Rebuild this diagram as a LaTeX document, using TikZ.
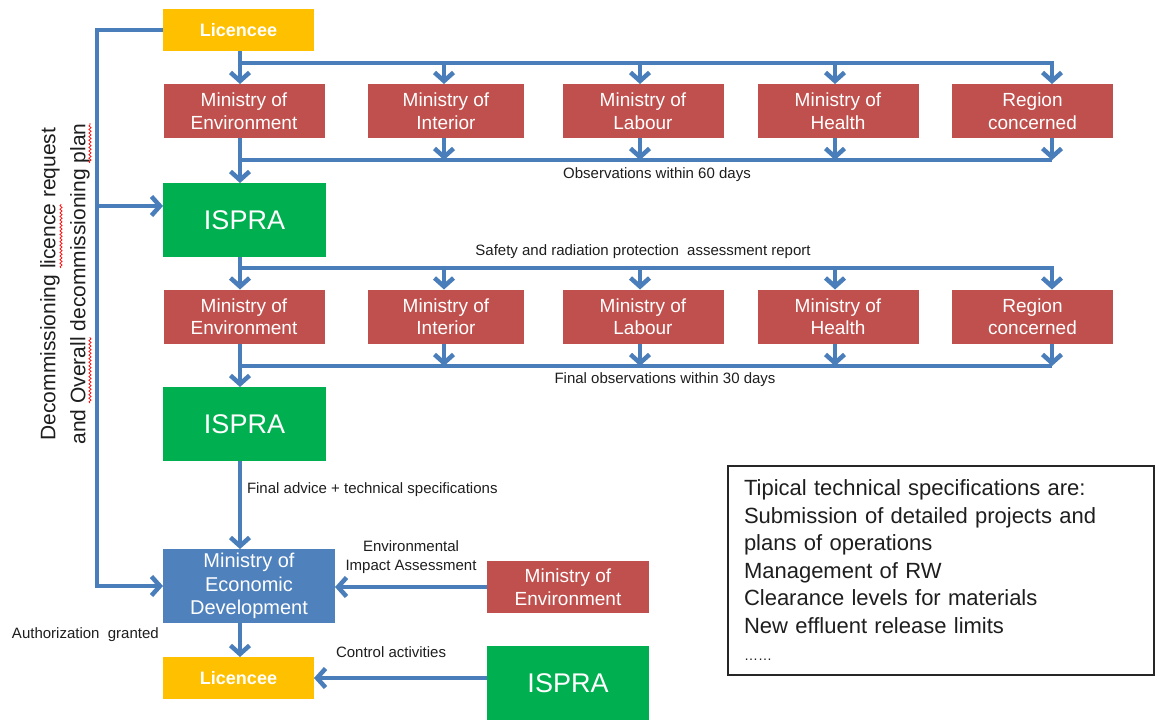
\documentclass[tikz,border=0pt]{standalone}
\usepackage{fontspec}
\setmainfont{Liberation Sans}
\usetikzlibrary{arrows.meta,decorations.pathmorphing}
\definecolor{licY}{RGB}{255,192,0}
\definecolor{minR}{RGB}{192,80,77}
\definecolor{isG}{RGB}{0,176,80}
\definecolor{ecoB}{RGB}{79,129,189}
\definecolor{arrB}{RGB}{74,126,187}
\definecolor{txtD}{RGB}{30,30,30}
\begin{document}
\begin{tikzpicture}[x=1pt,y=-1pt,
  every node/.style={inner sep=0pt,outer sep=0pt},
  boxbase/.style={text=white,align=center},
  minbox/.style={boxbase,fill=minR,minimum width=161pt,minimum height=54pt,font=\fontsize{19}{22.5}\selectfont},
  ispbox/.style={boxbase,fill=isG,minimum width=163pt,minimum height=74pt,font=\fontsize{27}{30}\selectfont},
  licbox/.style={boxbase,fill=licY,minimum width=151pt,minimum height=42pt,font=\fontsize{18}{20}\selectfont\bfseries},
  ecobox/.style={boxbase,fill=ecoB,minimum width=172pt,minimum height=74pt,font=\fontsize{20}{23.5}\selectfont},
  flow/.style={draw=arrB,line width=4.5pt},
  flowarr/.style={flow,-{Straight Barb[length=8.5pt,width=19pt]}},
  lbl/.style={font=\fontsize{15}{18}\selectfont,text=txtD},
  spell/.style={draw=red,line width=0.7pt,decorate,decoration={snake,amplitude=1.1pt,segment length=3.6pt}}
]
\useasboundingbox (0,0) rectangle (1155,720);
\fill[white] (0,0) rectangle (1155,720);

% column and bus coordinates
\coordinate (c1) at (240,0);
\coordinate (c2) at (444,0);
\coordinate (c3) at (640,0);
\coordinate (c4) at (835,0);
\coordinate (c5) at (1052,0);
\coordinate (lft) at (97,0);
\coordinate (bus1) at (0,63);
\coordinate (bus2) at (0,160);
\coordinate (bus3) at (0,268);
\coordinate (bus4) at (0,366);
\coordinate (br) at (0,206);

% nodes
\node[licbox] (lic1) at (238.5,30) {Licencee};

\node[minbox] (env1) at (244,111) {Ministry of\\Environment};
\node[minbox,minimum width=156pt] (int1) at (446,111) {Ministry of\\Interior};
\node[minbox] (lab1) at (643,111) {Ministry of\\Labour};
\node[minbox] (hea1) at (838,111) {Ministry of\\Health};
\node[minbox] (reg1) at (1032.5,111) {Region\\concerned};

\node[ispbox] (isp1) at (244.5,220) {ISPRA};

\node[minbox] (env2) at (244,316.5) {Ministry of\\Environment};
\node[minbox,minimum width=156pt] (int2) at (446,316.5) {Ministry of\\Interior};
\node[minbox] (lab2) at (643,316.5) {Ministry of\\Labour};
\node[minbox] (hea2) at (838,316.5) {Ministry of\\Health};
\node[minbox] (reg2) at (1032.5,316.5) {Region\\concerned};

\node[ispbox] (isp2) at (244.5,424) {ISPRA};

\node[ecobox] (eco) at (249,586) {Ministry of\\Economic\\Development};
\node[licbox] (lic2) at (238.5,678) {Licencee};
\node[minbox,minimum width=162pt,minimum height=52pt] (me) at (568,587) {Ministry of\\Environment};
\node[ispbox,minimum width=162pt] (isp3) at (568,683) {ISPRA};

% labels
\node[lbl] (obs60) at (657,175) {Observations within 60 days};
\node[lbl] (safety) at (643,252) {Safety and radiation protection\ \ assessment report};
\node[lbl] (obs30) at (665,380) {Final observations within 30 days};
\node[lbl,anchor=west] (advice) at (247,490) {Final advice + technical specifications};
\node[lbl,align=center,font=\fontsize{15}{19}\selectfont] (eia) at (411,557) {Environmental\\Impact Assessment};
\node[lbl,anchor=west] (auth) at (12,635) {Authorization\ \ granted};
\node[lbl,anchor=west] (ctrl) at (336,652) {Control activities};

\node[rotate=90,align=center,font=\fontsize{21}{30}\selectfont,text=txtD] (req) at (65,284)
  {Decommissioning licence request\\and Overall decommissioning plan};
% spell-check marks
\draw[spell] (61,268) -- (61,204);
\draw[spell] (90,403) -- (90,337);
\draw[spell] (90,163) -- (90,123);

\node[draw=black!85,line width=1.3pt,anchor=north west,minimum width=426pt,minimum height=209pt,
      inner xsep=16pt,text width=394pt,align=left,font=\fontsize{22}{27.5}\selectfont,text=txtD] (spec) at (728,466)
  {Tipical technical specifications are:\\
   Submission of detailed projects and\\
   plans of operations\\
   Management of RW\\
   Clearance levels for materials\\
   New effluent release limits\\
   {\fontsize{14}{27.5}\selectfont ……}};

% first round of ministries
\draw[flowarr] (c1 |- lic1.south) -- (c1 |- env1.north);
\draw[flowarr] (c1 |- bus1) -| (c5 |- reg1.north);
\draw[flowarr] (c2 |- bus1) -- (c2 |- int1.north);
\draw[flowarr] (c3 |- bus1) -- (c3 |- lab1.north);
\draw[flowarr] (c4 |- bus1) -- (c4 |- hea1.north);

\draw[flow] (c1 |- bus2) -- (c5 |- bus2);
\draw[flowarr] (c1 |- env1.south) -- (c1 |- isp1.north);
\draw[flowarr] (c2 |- int1.south) -- (c2 |- bus2);
\draw[flowarr] (c3 |- lab1.south) -- (c3 |- bus2);
\draw[flowarr] (c4 |- hea1.south) -- (c4 |- bus2);
\draw[flowarr] (c5 |- reg1.south) -- (c5 |- bus2);

% second round
\draw[flowarr] (c1 |- isp1.south) -- (c1 |- env2.north);
\draw[flowarr] (c1 |- bus3) -| (c5 |- reg2.north);
\draw[flowarr] (c2 |- bus3) -- (c2 |- int2.north);
\draw[flowarr] (c3 |- bus3) -- (c3 |- lab2.north);
\draw[flowarr] (c4 |- bus3) -- (c4 |- hea2.north);

\draw[flow] (c1 |- bus4) -- (c5 |- bus4);
\draw[flowarr] (c1 |- env2.south) -- (c1 |- isp2.north);
\draw[flowarr] (c2 |- int2.south) -- (c2 |- bus4);
\draw[flowarr] (c3 |- lab2.south) -- (c3 |- bus4);
\draw[flowarr] (c4 |- hea2.south) -- (c4 |- bus4);
\draw[flowarr] (c5 |- reg2.south) -- (c5 |- bus4);

% lower part
\draw[flowarr] (c1 |- isp2.south) -- (c1 |- eco.north);
\draw[flowarr] (c1 |- eco.south) -- (c1 |- lic2.north);
\draw[flowarr] (me.west) -- (eco.east |- me.west);
\draw[flowarr] (isp3.west |- lic2.east) -- (lic2.east);

% left feedback line
\draw[flowarr] (lic1.west) -| (lft |- eco.west) -- (eco.west);
\draw[flowarr] (lft |- br) -- (isp1.west |- br);
\end{tikzpicture}
\end{document}
